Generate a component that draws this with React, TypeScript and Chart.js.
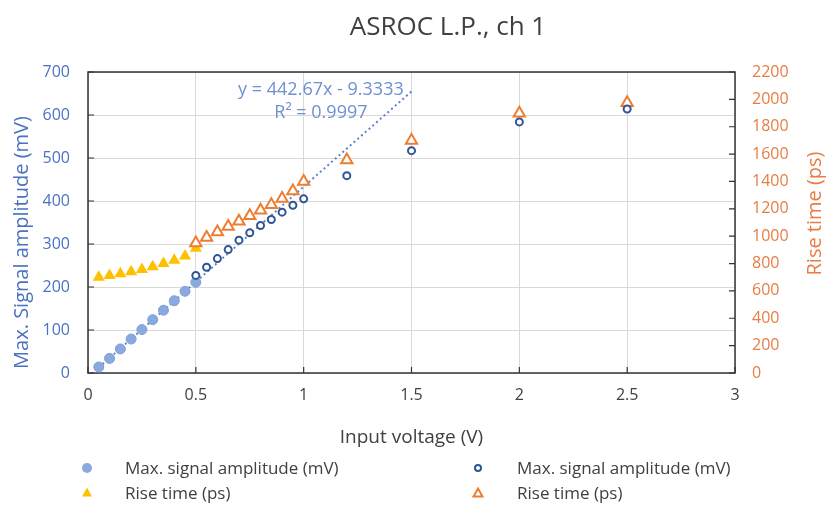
import { useEffect, useRef } from 'react';
import { Chart, registerables } from 'chart.js';

Chart.register(...registerables);

// ---------- data ----------
const TITLE = 'ASROC L.P., ch 1';
const X_TITLE = 'Input voltage (V)';
const Y_TITLE = 'Max. Signal amplitude (mV)';
const Y2_TITLE = 'Rise time (ps)';
const LEGEND_AMP = 'Max. signal amplitude (mV)';
const LEGEND_RISE = 'Rise time (ps)';

const VOLT_LOW = [0.05, 0.1, 0.15, 0.2, 0.25, 0.3, 0.35, 0.4, 0.45, 0.5];
const AMP_LOW = [14, 34, 56, 79, 101, 124, 146, 168, 190, 211];
const RISE_LOW = [700, 712, 725, 740, 757, 777, 800, 825, 855, 912];

const VOLT_HIGH = [0.5, 0.55, 0.6, 0.65, 0.7, 0.75, 0.8, 0.85, 0.9, 0.95, 1.0, 1.2, 1.5, 2.0, 2.5];
const AMP_HIGH = [227, 246, 266, 287, 309, 326, 343, 357, 374, 390, 405, 459, 517, 584, 614];
const RISE_HIGH = [950, 990, 1030, 1070, 1110, 1150, 1190, 1230, 1275, 1330, 1400, 1557, 1700, 1898, 1975];

const TREND_SLOPE = 442.67;
const TREND_INTERCEPT = -9.3333;
const TREND_R2 = '0.9997';
const TREND_X = [0.05, 1.5];
const TREND_LABEL_POS = { x: 1.08, y1: 658, y2: 605 };

const X_MIN = 0, X_MAX = 3, X_STEP = 0.5;
const Y_MIN = 0, Y_MAX = 700, Y_STEP = 100;
const Y2_MIN = 0, Y2_MAX = 2200, Y2_STEP = 200;

// ---------- styles ----------
const FONT = '"Open Sans", Lato, "DejaVu Sans", sans-serif';
const BLUE_LIGHT = '#8aa9df';
const BLUE_DARK = '#2f5597';
const GOLD = '#ffc000';
const ORANGE = '#ed7d31';
const AXIS_BLUE = '#4a72c0';
const AXIS_ORANGE = '#e67d43';
const TEXT_GREY = '#404040';
const TREND_COLOR = '#5b84cc';
const TREND_TEXT = '#6f90cf';

const pts = (xs: number[], ys: number[]) => xs.map((x, i) => ({ x, y: ys[i] }));
const plain = (v: any) => String(v);

const framePlugin = {
  id: 'frame',
  beforeDatasetsDraw(chart: any) {
    const { ctx, chartArea: a, scales } = chart;
    const tick = 6;
    ctx.save();
    ctx.strokeStyle = '#333333';
    ctx.lineWidth = 1.5;
    ctx.strokeRect(a.left, a.top, a.right - a.left, a.bottom - a.top);
    ctx.lineWidth = 1.2;
    ctx.beginPath();
    scales.y.ticks.forEach((t: any) => {
      const py = scales.y.getPixelForValue(t.value);
      ctx.moveTo(a.left, py);
      ctx.lineTo(a.left + tick, py);
    });
    scales.y2.ticks.forEach((t: any) => {
      const py = scales.y2.getPixelForValue(t.value);
      ctx.moveTo(a.right, py);
      ctx.lineTo(a.right - tick, py);
    });
    scales.x.ticks.forEach((t: any) => {
      const px = scales.x.getPixelForValue(t.value);
      ctx.moveTo(px, a.bottom);
      ctx.lineTo(px, a.bottom - tick);
    });
    ctx.stroke();
    ctx.restore();
  },
  afterDraw(chart: any) {
    const { ctx, chartArea: a, scales } = chart;
    ctx.save();
    ctx.font = `20px ${FONT}`;
    ctx.textAlign = 'center';
    ctx.textBaseline = 'middle';
    ctx.fillStyle = AXIS_BLUE;
    ctx.translate(22, (a.top + a.bottom) / 2 + 20);
    ctx.rotate(-Math.PI / 2);
    ctx.fillText(Y_TITLE, 0, 0);
    ctx.restore();
    ctx.save();
    ctx.font = `20px ${FONT}`;
    ctx.textAlign = 'center';
    ctx.textBaseline = 'middle';
    ctx.fillStyle = AXIS_ORANGE;
    ctx.translate(a.right + 80, (a.top + a.bottom) / 2 - 9);
    ctx.rotate(-Math.PI / 2);
    ctx.fillText(Y2_TITLE, 0, 0);
    ctx.restore();
    ctx.save();
    ctx.font = `18px ${FONT}`;
    ctx.textAlign = 'center';
    ctx.textBaseline = 'middle';
    ctx.fillStyle = TREND_TEXT;
    const lx = scales.x.getPixelForValue(TREND_LABEL_POS.x);
    ctx.fillText(`y = ${TREND_SLOPE}x - ${Math.abs(TREND_INTERCEPT)}`, lx, scales.y.getPixelForValue(TREND_LABEL_POS.y1));
    ctx.fillText(`R² = ${TREND_R2}`, lx, scales.y.getPixelForValue(TREND_LABEL_POS.y2));
    ctx.restore();
  },
};

function Marker({ kind }: { kind: string }) {
  return (
    <svg width={16} height={16} viewBox="0 0 16 16" style={{ display: 'block' }}>
      {kind === 'filledCircle' && <circle cx={8} cy={8} r={5} fill={BLUE_LIGHT} />}
      {kind === 'hollowCircle' && <circle cx={8} cy={8} r={3} fill="#fff" stroke={BLUE_DARK} strokeWidth={2} />}
      {kind === 'filledTri' && <polygon points="8,2.5 13,11.5 3,11.5" fill={GOLD} />}
      {kind === 'hollowTri' && <polygon points="8,3.5 12.5,11.5 3.5,11.5" fill="#fff" stroke={ORANGE} strokeWidth={2} />}
    </svg>
  );
}

const LEGEND_ITEMS = [
  { kind: 'filledCircle', label: LEGEND_AMP, mx: 87, tx: 125, cy: 468 },
  { kind: 'hollowCircle', label: LEGEND_AMP, mx: 478, tx: 517, cy: 468 },
  { kind: 'filledTri', label: LEGEND_RISE, mx: 87, tx: 125, cy: 493 },
  { kind: 'hollowTri', label: LEGEND_RISE, mx: 478, tx: 517, cy: 493 },
];

export default function App() {
  const ref = useRef<HTMLCanvasElement>(null);

  useEffect(() => {
    const chart = new Chart(ref.current as HTMLCanvasElement, {
      type: 'scatter',
      data: {
        datasets: [
          {
            label: LEGEND_AMP,
            data: pts(VOLT_HIGH, AMP_HIGH),
            yAxisID: 'y',
            pointStyle: 'circle',
            pointRadius: 3.5,
            pointBorderWidth: 2,
            pointBackgroundColor: '#ffffff',
            pointBorderColor: BLUE_DARK,
            showLine: false,
          },
          {
            label: LEGEND_RISE,
            data: pts(VOLT_HIGH, RISE_HIGH),
            yAxisID: 'y2',
            pointStyle: 'triangle',
            pointRadius: 6.5,
            pointBorderWidth: 2,
            pointBackgroundColor: '#ffffff',
            pointBorderColor: ORANGE,
            showLine: false,
          },
          {
            label: LEGEND_AMP,
            data: pts(VOLT_LOW, AMP_LOW),
            yAxisID: 'y',
            pointStyle: 'circle',
            pointRadius: 5,
            pointBorderWidth: 1,
            pointBackgroundColor: BLUE_LIGHT,
            pointBorderColor: '#7f9ed8',
            showLine: false,
          },
          {
            label: LEGEND_RISE,
            data: pts(VOLT_LOW, RISE_LOW),
            yAxisID: 'y2',
            pointStyle: 'triangle',
            pointRadius: 7,
            pointBorderWidth: 0,
            pointBackgroundColor: GOLD,
            pointBorderColor: GOLD,
            showLine: false,
          },
          {
            label: 'trend',
            data: TREND_X.map((x) => ({ x, y: TREND_SLOPE * x + TREND_INTERCEPT })),
            yAxisID: 'y',
            showLine: true,
            pointRadius: 0,
            borderColor: TREND_COLOR,
            borderWidth: 2,
            borderDash: [2, 3],
            fill: false,
          },
        ],
      },
      options: {
        animation: false,
        responsive: true,
        maintainAspectRatio: false,
        events: [],
        layout: { padding: { top: 72, bottom: 59, left: 0, right: 0 } },
        plugins: {
          legend: { display: false },
          tooltip: { enabled: false },
          title: { display: false },
        },
        scales: {
          x: {
            type: 'linear',
            min: X_MIN,
            max: X_MAX,
            ticks: { stepSize: X_STEP, color: TEXT_GREY, font: { family: FONT, size: 16 }, padding: 13, callback: plain },
            grid: { color: '#d9d9d9', lineWidth: 1, drawTicks: false },
            border: { display: false },
            title: { display: true, text: X_TITLE, color: TEXT_GREY, font: { family: FONT, size: 19 }, padding: { top: 0, bottom: 4 } },
            afterFit: (s: any) => { s.height = 80; },
          },
          y: {
            type: 'linear',
            position: 'left',
            min: Y_MIN,
            max: Y_MAX,
            ticks: { stepSize: Y_STEP, color: AXIS_BLUE, font: { family: FONT, size: 16 }, padding: 18, callback: plain },
            grid: { color: '#d9d9d9', lineWidth: 1, drawTicks: false },
            border: { display: false },
            afterFit: (s: any) => { s.width = 88; },
          },
          y2: {
            type: 'linear',
            position: 'right',
            min: Y2_MIN,
            max: Y2_MAX,
            ticks: { stepSize: Y2_STEP, color: AXIS_ORANGE, font: { family: FONT, size: 16 }, padding: 17, callback: plain },
            grid: { display: false, drawTicks: false },
            border: { display: false },
            afterFit: (s: any) => { s.width = 94; },
          },
        },
      },
      plugins: [framePlugin],
    } as any);
    return () => chart.destroy();
  }, []);

  return (
    <div style={{ position: 'absolute', left: 0, top: 0, width: 829, height: 512, background: '#ffffff', fontFamily: FONT }}>
      <div style={{ position: 'absolute', left: 0, top: 0, width: 829, height: 512 }}>
        <canvas ref={ref} />
      </div>
      <div
        style={{
          position: 'absolute',
          left: 248,
          top: 8,
          width: 400,
          textAlign: 'center',
          fontSize: 26,
          lineHeight: '34px',
          color: TEXT_GREY,
        }}
      >
        {TITLE}
      </div>
      {LEGEND_ITEMS.map((it, i) => (
        <div key={i}>
          <div style={{ position: 'absolute', left: it.mx - 8, top: it.cy - 8 }}>
            <Marker kind={it.kind} />
          </div>
          <div
            style={{
              position: 'absolute',
              left: it.tx,
              top: it.cy - 12,
              fontSize: 17,
              lineHeight: '24px',
              color: TEXT_GREY,
              whiteSpace: 'nowrap',
            }}
          >
            {it.label}
          </div>
        </div>
      ))}
    </div>
  );
}
